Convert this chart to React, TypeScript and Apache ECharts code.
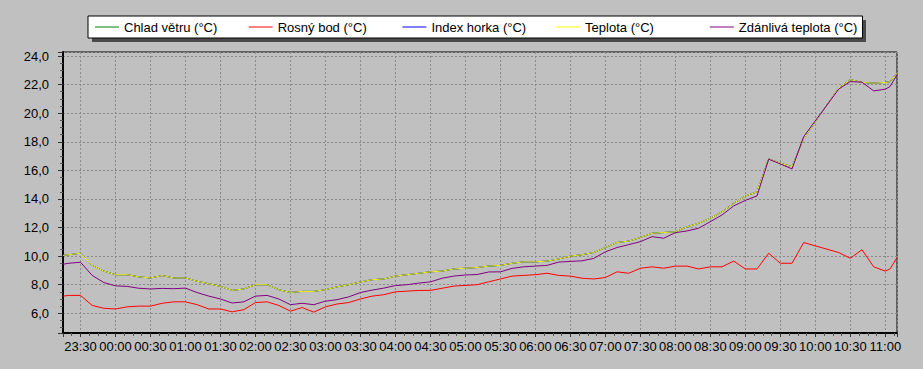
import React, { useEffect, useRef } from "react";
import * as echarts from "echarts";

// Measurement times (HH:MM), from 23:15 to 11:10
const times = [
  "23:15", "23:20", "23:30", "23:40", "23:50",
  "00:00", "00:10", "00:20", "00:30", "00:40", "00:50",
  "01:00", "01:10", "01:20", "01:30", "01:40", "01:50",
  "02:00", "02:10", "02:20", "02:30", "02:40", "02:50",
  "03:00", "03:10", "03:20", "03:30", "03:40", "03:50",
  "04:00", "04:10", "04:20", "04:30", "04:40", "04:50",
  "05:00", "05:10", "05:20", "05:30", "05:40", "05:50",
  "06:00", "06:10", "06:20", "06:30", "06:40", "06:50",
  "07:00", "07:10", "07:20", "07:30", "07:40", "07:50",
  "08:00", "08:10", "08:20", "08:30", "08:40", "08:50",
  "09:00", "09:10", "09:20", "09:30", "09:40", "09:50",
  "10:20", "10:30", "10:40", "10:50", "11:00", "11:04", "11:10",
];

// Teplota (°C)
const teplota = [
  10.05, 10.1, 10.2, 9.35, 8.95,
  8.7, 8.7, 8.55, 8.47, 8.64, 8.47,
  8.47, 8.24, 8.07, 7.88, 7.6, 7.7,
  8.0, 8.0, 7.65, 7.46, 7.53, 7.53,
  7.65, 7.85, 8.0, 8.19, 8.35, 8.4,
  8.6, 8.7, 8.8, 8.9, 8.95, 9.1,
  9.15, 9.2, 9.3, 9.35, 9.5, 9.6,
  9.6, 9.65, 9.8, 10.0, 10.1, 10.25,
  10.6, 10.95, 11.05, 11.3, 11.6, 11.65,
  11.7, 12.05, 12.3, 12.65, 13.1, 13.7,
  14.2, 14.5, 16.8, 16.5, 16.25, 18.25,
  21.75, 22.35, 22.15, 22.1, 22.15, 22.2, 22.8,
];

// Rosný bod (°C)
const rosnyBod = [
  7.2, 7.25, 7.25, 6.55, 6.35,
  6.3, 6.45, 6.5, 6.5, 6.7, 6.8,
  6.8, 6.6, 6.3, 6.3, 6.1, 6.25,
  6.75, 6.8, 6.55, 6.15, 6.4, 6.08,
  6.45, 6.65, 6.75, 7.0, 7.2, 7.3,
  7.5, 7.55, 7.6, 7.6, 7.75, 7.9,
  7.95, 8.0, 8.2, 8.4, 8.6, 8.65,
  8.7, 8.8, 8.65, 8.6, 8.45, 8.4,
  8.5, 8.9, 8.8, 9.15, 9.25, 9.15,
  9.3, 9.3, 9.1, 9.25, 9.25, 9.65,
  9.1, 9.1, 10.2, 9.5, 9.5, 10.95,
  10.25, 9.85, 10.45, 9.25, 8.95, 9.1, 9.9,
];

// Zdánlivá teplota (°C)
const zdanlivaTeplota = [
  9.43, 9.5, 9.57, 8.65, 8.15,
  7.92, 7.88, 7.75, 7.7, 7.74, 7.72,
  7.76, 7.45, 7.2, 7.0, 6.72, 6.8,
  7.2, 7.25, 7.0, 6.6, 6.7, 6.6,
  6.85, 6.95, 7.15, 7.45, 7.62, 7.76,
  7.94, 8.0, 8.11, 8.2, 8.45, 8.6,
  8.68, 8.71, 8.89, 8.9, 9.14, 9.25,
  9.3, 9.35, 9.58, 9.63, 9.67, 9.84,
  10.3, 10.6, 10.8, 11.01, 11.36, 11.25,
  11.64, 11.76, 11.95, 12.41, 12.88, 13.51,
  13.9, 14.21, 16.78, 16.45, 16.1, 18.36,
  21.68, 22.21, 22.17, 21.56, 21.68, 21.86, 22.68,
];

// Chlad větru and Index horka coincide with the temperature here
const chladVetru = teplota;
const indexHorka = teplota;

const seriesNames = [
  "Chlad větru (°C)",
  "Rosný bod (°C)",
  "Index horka (°C)",
  "Teplota (°C)",
  "Zdánlivá teplota (°C)",
];
const seriesColors = ["#008000", "#ff0000", "#0000ff", "#ffff00", "#800080"];
const seriesValues = [chladVetru, rosnyBod, indexHorka, teplota, zdanlivaTeplota];

// minutes relative to 23:30
function toT(s: string): number {
  const [h, m] = s.split(":").map(Number);
  let mins = h * 60 + m;
  if (h >= 12) mins -= 1440;
  return mins + 30;
}
function fmtT(v: number): string {
  let m = Math.round(v) - 30;
  m = ((m % 1440) + 1440) % 1440;
  const h = Math.floor(m / 60);
  const mm = m % 60;
  return String(h).padStart(2, "0") + ":" + String(mm).padStart(2, "0");
}

export default function App() {
  const ref = useRef<HTMLDivElement>(null);
  useEffect(() => {
    document.body.style.margin = "0";
    document.body.style.background = "#c0c0c0";
    const chart = echarts.init(ref.current!, null, { renderer: "svg" });
    const grid = "#8a8a8a";
    chart.setOption({
      animation: false,
      backgroundColor: "#c0c0c0",
      graphic: [
        {
          type: "rect",
          z: 0,
          shape: { x: 92, y: 20, width: 774, height: 22 },
          style: { fill: "#4a4a4a" },
          silent: true,
        },
      ],
      legend: {
        left: 88,
        top: 16,
        z: 10,
        padding: [4, 0, 4, 7],
        itemGap: 1,
        itemWidth: 24,
        itemHeight: 1,
        icon: "rect",
        backgroundColor: "#ffffff",
        borderColor: "#000000",
        borderWidth: 1,
        selectedMode: false,
        textStyle: {
          fontFamily: "Arial, 'Liberation Sans', sans-serif",
          fontSize: 13,
          lineHeight: 14,
          color: "#000",
          width: 123.7,
        },
        data: seriesNames,
      },
      grid: {
        left: 63,
        right: 26,
        top: 52,
        bottom: 36,
        show: true,
        borderColor: "#000",
        borderWidth: 1,
        backgroundColor: "#c0c0c0",
      },
      xAxis: {
        type: "value",
        min: -15,
        max: 700,
        splitNumber: 24,
        minInterval: 30,
        maxInterval: 30,
        axisLine: { show: true, onZero: false, lineStyle: { color: "#000", width: 2 } },
        axisTick: { show: true, length: 4, lineStyle: { color: "#333" } },
        minorTick: { show: true, splitNumber: 4, length: 3, lineStyle: { color: "#555" } },
        splitLine: { show: true, lineStyle: { color: grid, type: [2, 2], width: 1 } },
        axisLabel: {
          showMinLabel: false,
          showMaxLabel: false,
          margin: 7,
          color: "#000",
          fontFamily: "Arial, 'Liberation Sans', sans-serif",
          fontSize: 13,
          formatter: (v: number) => (Math.abs(v % 30) < 1e-6 ? fmtT(v) : ""),
        },
      },
      yAxis: {
        type: "value",
        min: 4.62,
        max: 24.28,
        splitNumber: 10,
        minInterval: 2,
        maxInterval: 2,
        axisLine: { show: true, onZero: false, lineStyle: { color: "#000", width: 2 } },
        axisTick: { show: true, length: 5, lineStyle: { color: "#333" } },
        minorTick: { show: true, splitNumber: 4, length: 3, lineStyle: { color: "#555" } },
        splitLine: { show: true, lineStyle: { color: grid, type: [2, 2], width: 1 } },
        axisLabel: {
          showMinLabel: false,
          showMaxLabel: false,
          margin: 14,
          color: "#000",
          fontFamily: "'Liberation Sans Narrow', 'Arial Narrow', Arial, sans-serif",
          fontSize: 13,
          formatter: (v: number) =>
            Math.abs(v / 2 - Math.round(v / 2)) < 1e-6 ? v.toFixed(1).replace(".", ",") : "",
        },
      },
      series: seriesNames.map((name, i) => ({
        name,
        type: "line",
        symbol: "none",
        showSymbol: false,
        color: seriesColors[i],
        lineStyle: { color: seriesColors[i], width: 1 },
        data: times.map((t, j) => [toT(t), seriesValues[i][j]]),
      })),
    });
    return () => chart.dispose();
  }, []);
  return (
    <div
      ref={ref}
      style={{ width: 923, height: 369, background: "#c0c0c0" }}
    />
  );
}
